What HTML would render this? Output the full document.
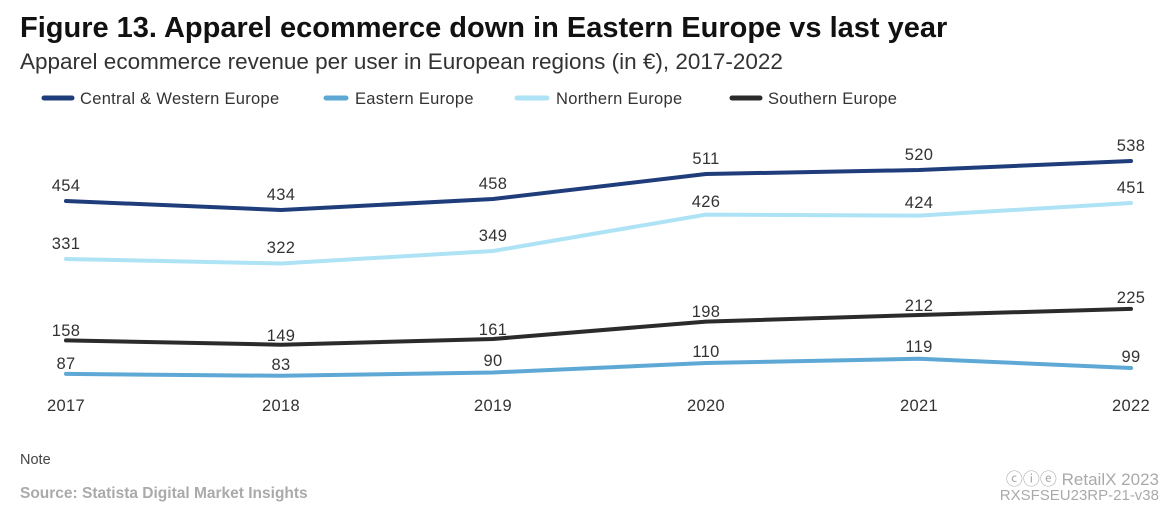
<!DOCTYPE html>
<html><head><meta charset="utf-8"><style>
body{margin:0;width:1171px;height:513px;background:#fff;font-family:"Liberation Sans",sans-serif;overflow:hidden;position:relative}
.t{position:absolute;white-space:nowrap}
</style></head><body>
<div class="t" style="left:20px;top:12px;font-size:29px;font-weight:bold;color:#111">Figure 13. Apparel ecommerce down in Eastern Europe vs last year</div>
<div class="t" style="left:20px;top:49px;font-size:22.5px;color:#333">Apparel ecommerce revenue per user in European regions (in €), 2017-2022</div>
<svg width="1171" height="513" style="position:absolute;left:0;top:0" font-family="Liberation Sans, sans-serif">
<g stroke-width="5" stroke-linecap="round">
<line x1="44" y1="98" x2="72" y2="98" stroke="#1f3d7a"/>
<line x1="326" y1="98" x2="346" y2="98" stroke="#5ea8d6"/>
<line x1="517" y1="98" x2="547" y2="98" stroke="#aee3f5"/>
<line x1="732" y1="98" x2="760" y2="98" stroke="#2b2b2b"/>
</g>
<g font-size="16.5" fill="#333" letter-spacing="0.3">
<text x="80" y="104">Central &amp; Western Europe</text>
<text x="355" y="104">Eastern Europe</text>
<text x="556" y="104">Northern Europe</text>
<text x="768" y="104">Southern Europe</text>
</g>
<g fill="none" stroke-width="4" stroke-linejoin="round" stroke-linecap="round">
<polyline stroke="#1f3d7a" points="66,201 281,210 493,199 706,174 919,170 1131,161"/>
<polyline stroke="#aee3f5" points="66,259 281,263.5 493,251 706,214.6 919,215.6 1131,203"/>
<polyline stroke="#2b2b2b" points="66,340.4 281,344.7 493,339 706,321.6 919,315 1131,308.9"/>
<polyline stroke="#5ea8d6" points="66,373.9 281,375.8 493,372.5 706,363 919,358.8 1131,368"/>
</g>
<g font-size="16.5" fill="#333" text-anchor="middle" letter-spacing="0.3">
<text x="66" y="191">454</text><text x="281" y="200">434</text><text x="493" y="189">458</text><text x="706" y="164">511</text><text x="919" y="160">520</text><text x="1131" y="151">538</text>
<text x="66" y="249">331</text><text x="281" y="253">322</text><text x="493" y="241">349</text><text x="706" y="207">426</text><text x="919" y="208">424</text><text x="1131" y="193">451</text>
<text x="66" y="336">158</text><text x="281" y="341">149</text><text x="493" y="335">161</text><text x="706" y="317">198</text><text x="919" y="311">212</text><text x="1131" y="303">225</text>
<text x="66" y="369">87</text><text x="281" y="370">83</text><text x="493" y="366">90</text><text x="706" y="357">110</text><text x="919" y="352">119</text><text x="1131" y="362">99</text>
<text x="66" y="411">2017</text><text x="281" y="411">2018</text><text x="493" y="411">2019</text><text x="706" y="411">2020</text><text x="919" y="411">2021</text><text x="1131" y="411">2022</text>
</g>
</svg>
<div class="t" style="left:20px;top:452px;font-size:14.5px;color:#444">Note</div>
<div class="t" style="left:20px;top:485px;font-size:15.5px;color:#aaa;font-weight:bold">Source: Statista Digital Market Insights</div>
<div class="t" style="right:12px;top:465px;font-size:17px;color:#aaa">ⓒⓘⓔ RetailX 2023</div>
<div class="t" style="right:12px;top:487px;font-size:15px;color:#aaa">RXSFSEU23RP-21-v38</div>
</body></html>
